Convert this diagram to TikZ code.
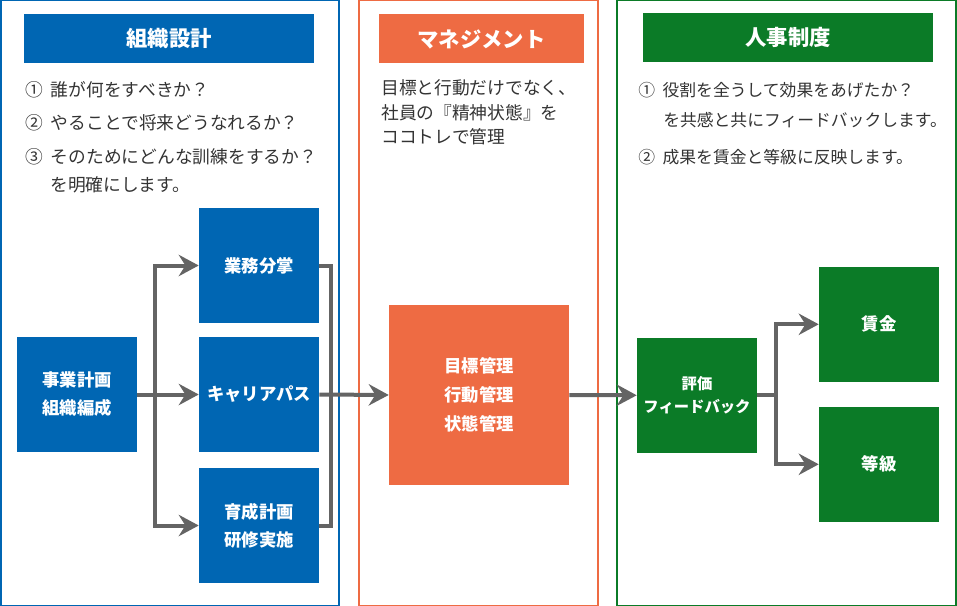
\documentclass[tikz,border=0pt]{standalone}
\usepackage{fontspec}
\setmainfont{Noto Sans CJK JP}
\usetikzlibrary{arrows.meta}
\definecolor{orgblue}{HTML}{0066B3}
\definecolor{mgmtorange}{HTML}{EE6B43}
\definecolor{hrgreen}{HTML}{0B7B27}
\definecolor{linkgray}{HTML}{646464}
\definecolor{bodytext}{HTML}{333333}
\newcommand{\itemno}[1]{\makebox[1.45em][l]{#1}}
\tikzset{
  panel/.style={draw=#1, line width=0.8pt},
  header/.style={fill=#1, text=white, minimum height=36.75pt, inner sep=0pt,
    font=\fontsize{16}{16}\selectfont\bfseries},
  box/.style={fill=#1, text=white, minimum width=90pt, minimum height=86pt,
    align=center, inner sep=0pt, font=\fontsize{13}{21}\selectfont\bfseries},
  note/.style={anchor=west, inner sep=0pt, text=bodytext,
    font=\fontsize{13.3}{13.3}\selectfont},
  hrnote/.style={note, font=\fontsize{12.6}{12.6}\selectfont},
  link/.style={draw=linkgray, line width=3pt},
  flow/.style={link, -{Stealth[length=15pt,width=16pt,inset=5pt]}},
}
\begin{document}
\begin{tikzpicture}[x=0.75pt, y=-0.75pt]
  \useasboundingbox (0,0) rectangle (957,606);
  % panels
  \draw[panel=orgblue] (1,0.5) rectangle (339,605.5);
  \draw[panel=mgmtorange] (359,0.5) rectangle (598,605.5);
  \draw[panel=hrgreen] (617,0.5) rectangle (956,605.5);

  % headers
  \node[header=orgblue, minimum width=217.5pt] at (169,38.5) (hdorg) {組織設計};
  \node[header=mgmtorange, minimum width=153.75pt] at (481.5,39) (hdmgmt) {マネジメント};
  \node[header=hrgreen, minimum width=217.5pt] at (788,37.5) (hdhr) {人事制度};

  % notes
  \node[note] at (25,90) (orgi) {\itemno{①}誰が何をすべきか？};
  \node[note] at (25,123) (orgii) {\itemno{②}やることで将来どうなれるか？};
  \node[note] at (25,157) (orgiii) {\itemno{③}そのためにどんな訓練をするか？};
  \node[note] at (50,185) (orgiv) {を明確にします。};
  \node[note] at (381,88) (mgi) {目標と行動だけでなく、};
  \node[note] at (381,113) (mgii) {社員の『精神状態』を};
  \node[note] at (381,137) (mgiii) {ココトレで管理};
  \node[hrnote] at (638,90) (hri) {\itemno{①}役割を全うして効果をあげたか？};
  \node[hrnote] at (663,120) (hrii) {を共感と共にフィードバックします。};
  \node[hrnote] at (638,157) (hriii) {\itemno{②}成果を賃金と等級に反映します。};

  % boxes
  \node[box=orgblue] at (77,394.5) (plan) {事業計画\\組織編成};
  \node[box=orgblue] at (259,265.5) (duty) {業務分掌};
  \node[box=orgblue] at (259,394.5) (career) {キャリアパス};
  \node[box=orgblue] at (259,525.5) (train) {育成計画\\研修実施};
  \node[box=mgmtorange, minimum width=135pt, minimum height=135pt,
    font=\fontsize{13}{22}\selectfont\bfseries] at (479,395) (mgmt)
    {目標管理\\行動管理\\状態管理};
  \node[box=hrgreen, font=\fontsize{11.5}{17.6}\selectfont\bfseries]
    at (697,395.3) (eval) {評価\\フィードバック};
  \node[box=hrgreen] at (879,324.3) (wage) {賃金};
  \node[box=hrgreen] at (879,464.3) (grade) {等級};

  % connectors
  \coordinate (split) at (155,394.5);
  \coordinate (join) at (331,394.5);
  \coordinate (gsplit) at (776,395.3);
  \path[link] (plan.east) -- (split);
  \path[flow] (split) |- (duty.west);
  \path[flow] (split) -- (career.west);
  \path[flow] (split) |- (train.west);
  \path[link] (duty.east) -| (join);
  \path[link] (train.east) -| (join);
  \path[flow] (career.east) -- (mgmt.west);
  \path[flow] (mgmt.east) -- (eval.west);
  \path[link] (eval.east) -- (gsplit);
  \path[flow] (gsplit) |- (wage.west);
  \path[flow] (gsplit) |- (grade.west);
\end{tikzpicture}
\end{document}
